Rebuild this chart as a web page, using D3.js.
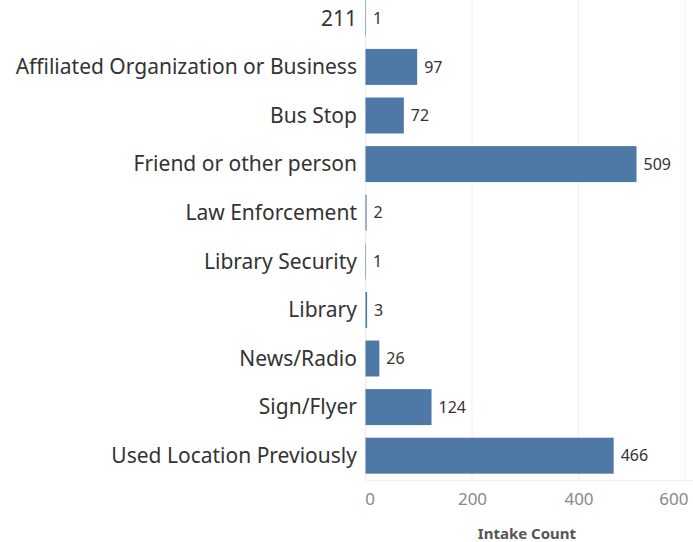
<!DOCTYPE html>
<html><head><meta charset="utf-8">
<script src="https://cdn.jsdelivr.net/npm/d3@7"></script>
<style>body{margin:0;background:#fff;overflow:hidden}</style>
</head><body>
<script>
const categories = ["211","Affiliated Organization or Business","Bus Stop","Friend or other person","Law Enforcement","Library Security","Library","News/Radio","Sign/Flyer","Used Location Previously"];
const values = [1,97,72,509,2,1,3,26,124,466];
const xTicks = [0,200,400,600];
const xTitle = "Intake Count";

const W=693,H=542;
const svg=d3.select("body").append("svg").attr("width",W).attr("height",H);
const font="'Noto Sans', 'Open Sans', sans-serif";
const x=d3.scaleLinear().domain([0,600]).range([365.5,685]);
const y=d3.scaleBand().domain(categories).range([-6,480]).paddingInner(0.26).paddingOuter(0.13);

svg.append("g").selectAll("line").data(xTicks.slice(1)).join("line")
  .attr("x1",d=>x(d)).attr("x2",d=>x(d)).attr("y1",0).attr("y2",480)
  .attr("stroke","#f0f0f0").attr("stroke-width",1);
svg.append("line").attr("x1",x(0)).attr("x2",x(0)).attr("y1",0).attr("y2",480).attr("stroke","#ebebeb");
svg.append("line").attr("x1",x(0)).attr("x2",W).attr("y1",480.5).attr("y2",480.5).attr("stroke","#f0f0f0");

svg.append("g").selectAll("rect").data(categories).join("rect")
  .attr("x",x(0)).attr("y",(d)=>y(d)).attr("height",y.bandwidth())
  .attr("width",(d,i)=>x(values[i])-x(0)).attr("fill","#4e79a7");

svg.append("g").selectAll("text").data(categories).join("text")
  .attr("x",(d,i)=>x(values[i])+7).attr("y",d=>y(d)+y.bandwidth()/2).attr("dy","0.35em")
  .attr("font-family",font).attr("font-size",16).attr("fill","#333")
  .text((d,i)=>values[i]);

svg.append("g").selectAll("text").data(categories).join("text")
  .attr("x",357).attr("y",d=>y(d)+y.bandwidth()/2).attr("dy","0.35em").attr("text-anchor","end")
  .attr("font-family",font).attr("font-size",21).attr("fill","#333")
  .text(d=>d);

const ax=svg.append("g").attr("transform","translate(0,480)")
  .call(d3.axisBottom(x).tickValues(xTicks).tickSize(0).tickPadding(13));
ax.select(".domain").remove();
ax.selectAll("text").attr("font-family",font).attr("font-size",17).attr("fill","#888")
  .attr("text-anchor",(d,i)=>i===xTicks.length-1?"end":"middle")
  .attr("dx",(d,i)=>i===0?4:(i===xTicks.length-1?3:0));

svg.append("text").attr("x",527).attr("y",539).attr("text-anchor","middle")
  .attr("font-family",font).attr("font-size",15).attr("font-weight","bold").attr("fill","#555").text(xTitle);
</script>
</body></html>
